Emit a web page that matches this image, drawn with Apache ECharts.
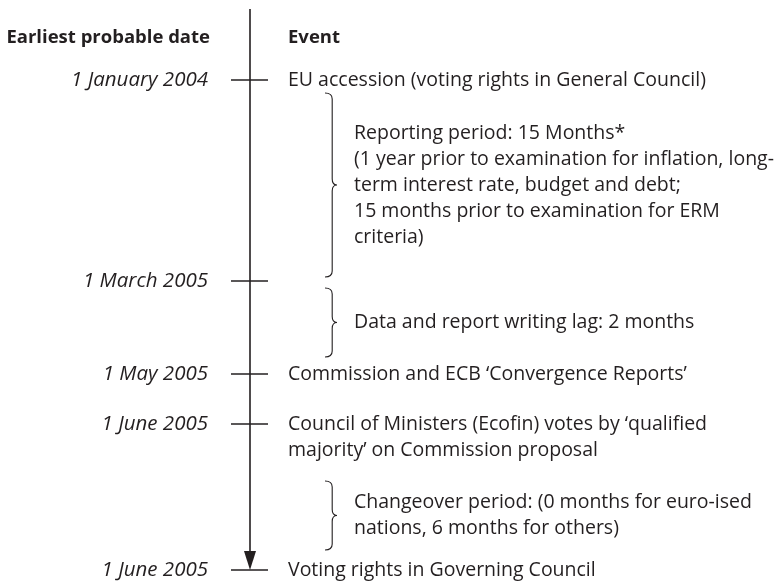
<!DOCTYPE html>
<html><head><meta charset="utf-8">
<script src="https://cdn.jsdelivr.net/npm/echarts@6/dist/echarts.min.js"></script>
<style>html,body{margin:0;padding:0;background:#fff}#c{width:784px;height:585px}</style>
</head><body><div id="c"></div>
<script>
// ---- data ----
const headers = ['Earliest probable date', 'Event'];
const dates = ['1 January 2004', '1 March 2005', '1 May 2005', '1 June 2005', '1 June 2005'];
const events = [
  ['EU accession (voting rights in General Council)'],
  [],
  ['Commission and ECB ‘Convergence Reports’'],
  ['Council of Ministers (Ecofin) votes by ‘qualified', 'majority’ on Commission proposal'],
  ['Voting rights in Governing Council']
];
// position of each milestone along the timeline (diagram units, top = 0)
const milestonePos = [80, 281, 374, 424, 570];
const periodFrom = [93, 288, 481];
const periodTo = [277, 357, 550];
const periodText = [
  ['Reporting period: 15 Months*', '(1 year prior to examination for inflation, long-', 'term interest rate, budget and debt;', '15 months prior to examination for ERM', 'criteria)'],
  ['Data and report writing lag: 2 months'],
  ['Changeover period: (0 months for euro-ised', 'nations, 6 months for others)']
];
const timelineStart = 9;

// ---- layout constants ----
const INK = '#231f20';
const FONT = '"Open Sans", sans-serif';
const FS = 19.5;
const LH = 26;
const AXIS_X = 250, TICK_L = 231, TICK_R = 268, DATE_R = 208, EVENT_X = 288;
const BRACE_X = 325, BRACE_W = 12, PERIOD_X = 354, HEADER_Y = 38;

const chart = echarts.init(document.getElementById('c'), null, {renderer: 'canvas'});

function textEl(x, y, s, align, style) {
  return {type: 'text', style: Object.assign({x: x, y: y, text: s, fill: INK, font: FS + 'px ' + FONT, align: align, verticalAlign: 'middle'}, style || {})};
}

const option = {
  animation: false,
  grid: {left: 0, right: 0, top: 0, bottom: 0},
  xAxis: {type: 'value', min: 0, max: 784, show: false},
  yAxis: {type: 'value', min: 0, max: 585, inverse: true, show: false},
  series: [
    { // headers + timeline spine
      type: 'custom', coordinateSystem: 'cartesian2d', data: [[0, 0]],
      renderItem: function (params, api) {
        const top = api.coord([AXIS_X, timelineStart]);
        const bot = api.coord([AXIS_X, milestonePos[milestonePos.length - 1]]);
        const hy = api.coord([0, HEADER_Y])[1];
        return {type: 'group', children: [
          {type: 'line', shape: {x1: top[0], y1: top[1], x2: bot[0], y2: bot[1] - 14}, style: {stroke: INK, lineWidth: 1.6}},
          {type: 'polygon', shape: {points: [[bot[0] - 6, bot[1] - 19], [bot[0] + 6, bot[1] - 19], [bot[0], bot[1]]]}, style: {fill: INK}},
          textEl(DATE_R + 2, hy, headers[0], 'right', {font: 'bold 18.5px ' + FONT}),
          textEl(EVENT_X, hy, headers[1], 'left', {font: 'bold 18.5px ' + FONT})
        ]};
      }
    },
    { // milestones
      type: 'custom', coordinateSystem: 'cartesian2d',
      data: milestonePos.map((p, i) => [AXIS_X, p, i]),
      renderItem: function (params, api) {
        const i = api.value(2);
        const c = api.coord([api.value(0), api.value(1)]);
        const ch = [
          {type: 'line', shape: {x1: TICK_L, y1: c[1], x2: TICK_R, y2: c[1]}, style: {stroke: INK, lineWidth: 1.4}},
          textEl(DATE_R, c[1], dates[i], 'right', {font: 'italic ' + (FS + 1) + 'px ' + FONT})
        ];
        events[i].forEach((s, k) => ch.push(textEl(EVENT_X, c[1] + k * LH, s, 'left')));
        return {type: 'group', children: ch};
      }
    },
    { // periods with braces
      type: 'custom', coordinateSystem: 'cartesian2d',
      data: periodFrom.map((f, i) => [f, periodTo[i], i]),
      renderItem: function (params, api) {
        const i = api.value(2);
        const y1 = api.coord([0, api.value(0)])[1];
        const y2 = api.coord([0, api.value(1)])[1];
        const ym = (y1 + y2) / 2;
        const x0 = BRACE_X, xm = BRACE_X + BRACE_W * 0.6, xt = BRACE_X + BRACE_W, r = 6;
        const d = 'M' + x0 + ' ' + y1 + ' Q' + xm + ' ' + y1 + ' ' + xm + ' ' + (y1 + r) +
          ' L' + xm + ' ' + (ym - r) + ' Q' + xm + ' ' + ym + ' ' + xt + ' ' + ym +
          ' Q' + xm + ' ' + ym + ' ' + xm + ' ' + (ym + r) +
          ' L' + xm + ' ' + (y2 - r) + ' Q' + xm + ' ' + y2 + ' ' + x0 + ' ' + y2;
        const ch = [{type: 'path', shape: {pathData: d}, style: {stroke: INK, fill: null, lineWidth: 1.1}}];
        const lines = periodText[i];
        const start = ym - (lines.length - 1) * LH / 2;
        lines.forEach((s, k) => ch.push(textEl(PERIOD_X, start + k * LH, s, 'left')));
        return {type: 'group', children: ch};
      }
    }
  ]
};
chart.setOption(option);
</script></body></html>
